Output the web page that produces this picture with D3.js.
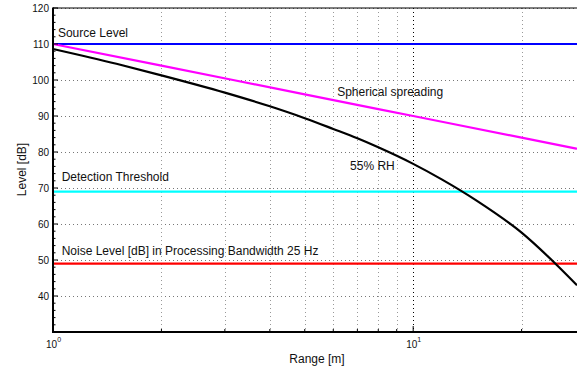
<!DOCTYPE html>
<html><head><meta charset="utf-8">
<script src="https://cdn.jsdelivr.net/npm/d3@7"></script>
<style>
html,body{margin:0;padding:0;background:#fff;overflow:hidden;}
text{font-family:"Liberation Sans",Arial,sans-serif;}
</style></head>
<body>
<svg id="chart" width="577" height="370"></svg>
<script>
// ---- data ----
const rangeMax = 28.5;
const yTicks = [40, 50, 60, 70, 80, 90, 100, 110, 120];
const xMajorTicks = [1, 10];
const xMinorTicks = [2, 3, 4, 5, 6, 7, 8, 9, 20];

const sourceLevel = 110;
const detectionThreshold = 69;
const noiseLevel = 49;

const sphericalRange = [1, 2, 5, 10, 20, 28.5];
const sphericalLevel = [110, 104.0, 96.0, 90.0, 84.0, 80.9];

const rhRange = [1, 1.5, 2, 3, 4, 5, 6, 7, 8, 10, 12, 15, 20, 25, 28.5];
const rhLevel = [108.6, 104.5, 101.3, 96.5, 92.7, 89.4, 86.4, 83.8, 81.3, 76.7, 72.4, 66.5, 57.6, 48.7, 43.0];

const labels = [
  {text: "Source Level", r: 1.032, v: 111.9},
  {text: "Spherical spreading", r: 6.15, v: 95.5},
  {text: "55% RH", r: 6.68, v: 74.9},
  {text: "Detection Threshold", r: 1.057, v: 71.9},
  {text: "Noise Level [dB] in Processing Bandwidth 25 Hz", r: 1.057, v: 51.4}
];

// ---- layout ----
const svg = d3.select("#chart");
const L = 53, T = 8, B = 332, R = 577;
const x = d3.scaleLog().domain([1, rangeMax]).range([L, R]);
const y = d3.scaleLinear().domain([30, 120]).range([B, T]);

// grid
const g = svg.append("g");
g.selectAll(".hg").data(yTicks).join("line")
  .attr("x1", L).attr("x2", R + 5)
  .attr("y1", d => Math.round(y(d)) + 0.5).attr("y2", d => Math.round(y(d)) + 0.5)
  .attr("stroke", "#777").attr("stroke-width", 1).attr("stroke-dasharray", "1,3");
g.selectAll(".vmin").data(xMinorTicks).join("line")
  .attr("x1", d => Math.round(x(d)) + 0.5).attr("x2", d => Math.round(x(d)) + 0.5)
  .attr("y1", T).attr("y2", B)
  .attr("stroke", "#999").attr("stroke-width", 1).attr("stroke-dasharray", "1,3");
g.selectAll(".vmaj").data(xMajorTicks.filter(d => d > 1)).join("line")
  .attr("x1", d => Math.round(x(d)) + 0.5).attr("x2", d => Math.round(x(d)) + 0.5)
  .attr("y1", T).attr("y2", B)
  .attr("stroke", "#000").attr("stroke-width", 1).attr("stroke-dasharray", "1,3");

// horizontal reference lines
const hLines = [
  {v: sourceLevel, c: "#0000ff"},
  {v: detectionThreshold, c: "#00ffff"},
  {v: noiseLevel, c: "#ff0000"}
];
svg.selectAll(".hl").data(hLines).join("line")
  .attr("x1", x(1)).attr("x2", x(rangeMax))
  .attr("y1", d => y(d.v)).attr("y2", d => y(d.v))
  .attr("stroke", d => d.c).attr("stroke-width", 2.2);

const line = d3.line().x(d => x(d[0])).y(d => y(d[1])).curve(d3.curveMonotoneX);
svg.append("path").datum(sphericalRange.map((r, i) => [r, sphericalLevel[i]]))
  .attr("d", line).attr("fill", "none").attr("stroke", "#ff00ff").attr("stroke-width", 2.2);
svg.append("path").datum(rhRange.map((r, i) => [r, rhLevel[i]]))
  .attr("d", line).attr("fill", "none").attr("stroke", "#000").attr("stroke-width", 2.2);

// text labels
svg.selectAll(".lbl").data(labels).join("text")
  .attr("x", d => x(d.r)).attr("y", d => y(d.v))
  .attr("font-size", 12).attr("fill", "#111").text(d => d.text);

// axes frame
svg.append("line").attr("x1", L).attr("x2", R + 5).attr("y1", T).attr("y2", T)
  .attr("stroke", "#000").attr("stroke-width", 1);
svg.append("line").attr("x1", L).attr("x2", R + 5).attr("y1", B).attr("y2", B)
  .attr("stroke", "#000").attr("stroke-width", 2);
svg.append("line").attr("x1", L).attr("x2", L).attr("y1", T - 0.5).attr("y2", B + 1)
  .attr("stroke", "#000").attr("stroke-width", 2);

// y ticks (major + minor, inward)
const yMinor = d3.range(32, 120, 2).filter(v => v % 10 !== 0);
svg.selectAll(".ytm").data(yTicks).join("line")
  .attr("x1", L).attr("x2", L + 5).attr("y1", d => y(d)).attr("y2", d => y(d))
  .attr("stroke", "#000").attr("stroke-width", 1);
svg.selectAll(".ytn").data(yMinor).join("line")
  .attr("x1", L).attr("x2", L + 2.5).attr("y1", d => y(d)).attr("y2", d => y(d))
  .attr("stroke", "#000").attr("stroke-width", 1);
svg.selectAll(".ytl").data(yTicks).join("text")
  .attr("x", L - 4).attr("y", d => y(d) + 3.5).attr("text-anchor", "end")
  .attr("font-size", 10).attr("fill", "#111").text(d => d);

// x ticks
svg.selectAll(".xtm").data(xMajorTicks).join("line")
  .attr("x1", d => x(d)).attr("x2", d => x(d)).attr("y1", B).attr("y2", B - 6)
  .attr("stroke", "#000").attr("stroke-width", 1);
svg.selectAll(".xtn").data(xMinorTicks).join("line")
  .attr("x1", d => x(d)).attr("x2", d => x(d)).attr("y1", B).attr("y2", B - 3)
  .attr("stroke", "#000").attr("stroke-width", 1);
const xl = svg.selectAll(".xtl").data(xMajorTicks).join("text")
  .attr("x", d => x(d) - 7).attr("y", B + 16)
  .attr("font-size", 10).attr("fill", "#111");
xl.append("tspan").text("10");
xl.append("tspan").attr("dy", -6).attr("font-size", 7).text(d => Math.round(Math.log10(d)));

// axis titles
svg.append("text").attr("x", 317).attr("y", 363)
  .attr("text-anchor", "middle").attr("font-size", 12).attr("fill", "#111").text("Range [m]");
svg.append("text").attr("transform", "translate(26," + 169.5 + ") rotate(-90)")
  .attr("text-anchor", "middle").attr("font-size", 12).attr("fill", "#111").text("Level [dB]");
</script>
</body></html>
